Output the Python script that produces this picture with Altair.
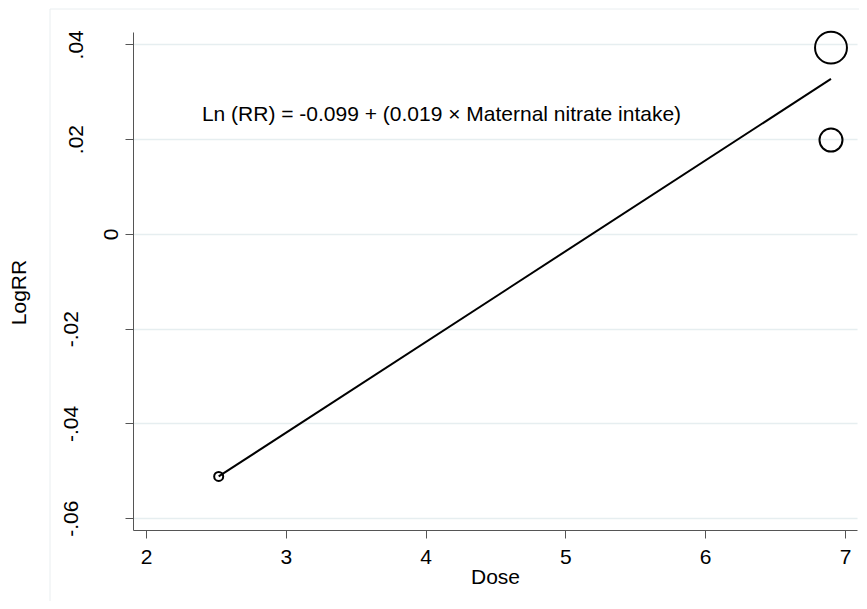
import altair as alt
import pandas as pd

# Observed dose / log RR points (marker area ~ study weight)
dose = [2.52, 6.90, 6.90]
logrr = [-0.0512, 0.0393, 0.0198]
weight = [0.08, 1.0, 0.52]

# Fitted regression line end points
fit_dose = [2.52, 6.90]
fit_logrr = [-0.0512, 0.0327]

x_ticks = [2, 3, 4, 5, 6, 7]
y_ticks = [-0.06, -0.04, -0.02, 0, 0.02, 0.04]

note_text = ["Ln (RR) = -0.099 + (0.019 \u00d7 Maternal nitrate intake)"]
note_x = [2.40]
note_y = [0.0238]

FONT = "Liberation Sans"
FS = 21

pts = pd.DataFrame({"dose": dose, "logrr": logrr, "w": weight})
fit = pd.DataFrame({"dose": fit_dose, "logrr": fit_logrr})
note = pd.DataFrame({"dose": note_x, "logrr": note_y, "t": note_text})

xscale = alt.Scale(domain=[1.907, 7.086], nice=False, zero=False)
yscale = alt.Scale(domain=[-0.0625, 0.0426], nice=False, zero=False)

x_axis = alt.Axis(
    values=x_ticks, format="d", title="Dose", grid=False, labelFontSize=FS, titleFontSize=FS,
    labelFont=FONT, titleFont=FONT, titleFontWeight="normal", labelColor="#000",
    titleColor="#000", tickSize=8, tickColor="#555", domainColor="#555",
    labelPadding=8, titleBaseline="alphabetic", titleY=53, labelFlush=False,
)
y_axis = alt.Axis(
    values=y_ticks, title="LogRR", grid=True, gridColor="#e6eef0", gridWidth=1.5,
    labelFontSize=FS, titleFontSize=FS, labelFont=FONT, titleFont=FONT,
    titleFontWeight="normal", labelColor="#000", titleColor="#000",
    tickSize=8, tickColor="#555", domainColor="#555",
    labelAngle=270, labelAlign="center", labelBaseline="alphabetic",
    labelExpr="datum.value == 0 ? '0' : (datum.value < 0 ? '-' : '') + replace(format(abs(datum.value), '.2f'), '0.', '.')",
    labelPadding={"condition": [{"test": "datum.value == 0", "value": 8},
                                {"test": "datum.value > 0", "value": 43}],
                  "value": 48},
    labelFlush=False,
    titleAngle=270, titleAlign="center", titleBaseline="alphabetic",
    titleX=-108, titleY=260,
)

frame = alt.Chart(pd.DataFrame({"a": [0]})).mark_rect(
    fill=None, stroke="#e9eef0", strokeWidth=1
).encode(x=alt.value(-83), x2=alt.value(800), y=alt.value(-23), y2=alt.value(700))

line = alt.Chart(fit).mark_line(color="#000", strokeWidth=2).encode(
    x=alt.X("dose:Q", scale=xscale, axis=x_axis),
    y=alt.Y("logrr:Q", scale=yscale, axis=y_axis),
)

points = alt.Chart(pts).mark_point(
    shape="circle", filled=False, color="#000", strokeWidth=2, opacity=1
).encode(
    x=alt.X("dose:Q", scale=xscale),
    y=alt.Y("logrr:Q", scale=yscale),
    size=alt.Size("w:Q", scale=alt.Scale(domain=[0, 1], range=[0, 1018]), legend=None),
)

text = alt.Chart(note).mark_text(
    align="left", baseline="alphabetic", font=FONT, fontSize=FS, color="#000"
).encode(
    x=alt.X("dose:Q", scale=xscale),
    y=alt.Y("logrr:Q", scale=yscale),
    text="t:N",
)

chart = alt.layer(frame, line, points, text).properties(
    width=724, height=498,
    autosize=alt.AutoSizeParams(type="none"),
    padding={"left": 125, "top": 24, "right": 2, "bottom": 71},
    background="white",
).configure_view(stroke=None)

chart.save("out.html", embed_options={"renderer": "svg", "actions": False})
